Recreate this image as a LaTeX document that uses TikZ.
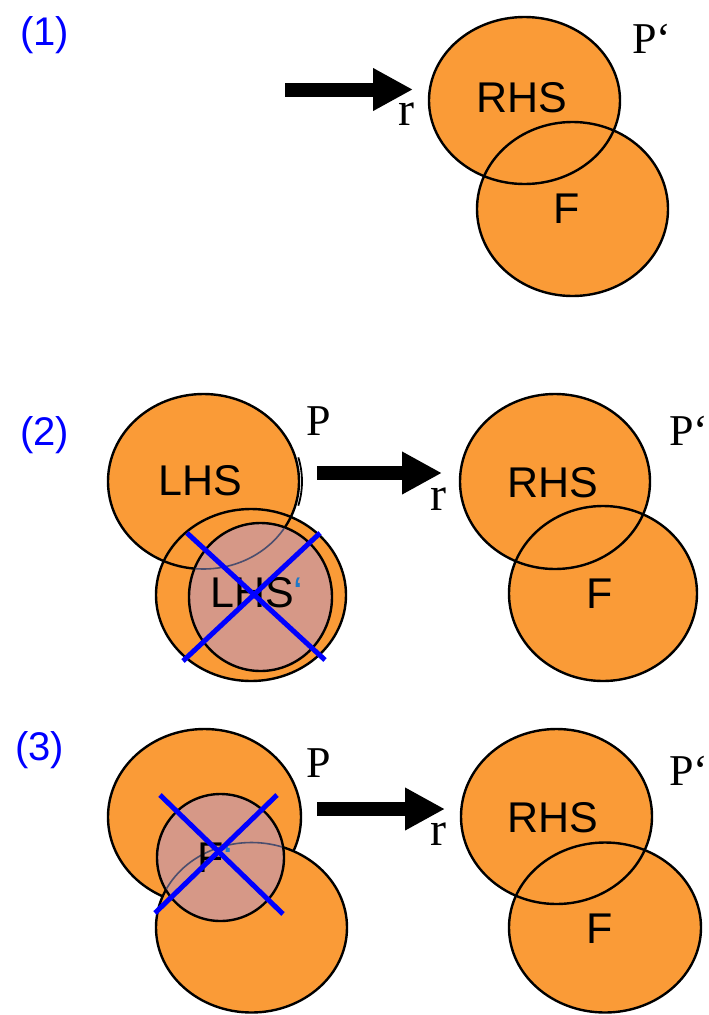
\documentclass[tikz,border=0pt]{standalone}
\usepackage{fontspec}
\setmainfont{Liberation Serif}
\newfontfamily\arialf{Liberation Sans}
\usetikzlibrary{arrows.meta}
\definecolor{blobor}{RGB}{250,155,55}
\definecolor{pinkx}{RGB}{214,152,135}
\definecolor{faintl}{RGB}{75,78,110}
\definecolor{primec}{RGB}{30,120,200}
\begin{document}
\begin{tikzpicture}[x=1pt,y=-1pt,
  blobfill/.style={fill=blobor},
  blobline/.style={draw=black,line width=2.4pt},
  pinkblob/.style={fill=pinkx,draw=black,line width=2.4pt},
  faint/.style={draw=faintl,line width=1.6pt},
  crossline/.style={draw=blue,line width=5pt},
  bigarrow/.style={line width=14pt,-{Triangle[length=40pt,width=40pt]}},
  lab/.style={font=\arialf\fontsize{43}{43}\selectfont,inner sep=0pt,anchor=base},
  num/.style={font=\arialf\fontsize{40}{40}\selectfont,text=blue,inner sep=0pt,anchor=base west},
  tms/.style={font=\fontsize{44}{44}\selectfont,inner sep=0pt,anchor=base},
  tmsr/.style={font=\fontsize{48}{48}\selectfont,inner sep=0pt,anchor=base},
  primemark/.style={text=primec}]
\path[use as bounding box] (0,0) rectangle (709,1015);

% ---------------- panel (1)
\node[num] (n1) at (20,45) {(1)};
\fill[blobfill] (524.5,100.5) ellipse [x radius=95.5,y radius=83.5];
\fill[blobfill] (572.5,209) ellipse [x radius=95.5,y radius=87];
\draw[blobline] (524.5,100.5) ellipse [x radius=95.5,y radius=83.5];
\draw[blobline] (572.5,209) ellipse [x radius=95.5,y radius=87];
\node[lab] (rhs1) at (522,112) {RHS};
\node[lab] (f1) at (567,223) {F};
\node[tms,anchor=base west] (pp1) at (632,53) {P‘};
\coordinate (a1s) at (285,89.5);
\coordinate (a1e) at (413,89.5);
\draw[bigarrow] (a1s) -- (a1e);
\node[tmsr] (r1) at (406,125) {r};

% ---------------- panel (2)
\node[num] (n2) at (20,445) {(2)};
\fill[blobfill] (203.5,481.5) ellipse [x radius=95.5,y radius=87.5];
\fill[blobfill] (251,595) ellipse [x radius=95,y radius=86];
\draw[blobline] (203.5,481.5) ellipse [x radius=95.5,y radius=87.5];
\draw[blobline] (251,595) ellipse [x radius=95,y radius=86];
\draw[line width=1.8pt] (206.5,481.5) ++(-16:95.5 and 87.5) arc [start angle=-16,end angle=16,x radius=95.5,y radius=87.5];
\node[lab] (lhs2) at (200.5,495) {LHS};
\draw[pinkblob] (260.5,597) ellipse [x radius=71.5,y radius=74];
\begin{scope}
  \clip (260.5,597) ellipse [x radius=70.5,y radius=73];
  \draw[faint] (203.5,481.5) ellipse [x radius=95.5,y radius=87.5];
\end{scope}
\node[lab,anchor=base west] (lhsp) at (210,607) {LHS\textcolor{primec}{‘}};
\coordinate (x2a) at (187,533); \coordinate (x2b) at (325,660);
\coordinate (x2c) at (320,533); \coordinate (x2d) at (183,661);
\draw[crossline] (x2a) -- (x2b);
\draw[crossline] (x2c) -- (x2d);
\node[tms] (p2) at (318.5,435) {P};
\coordinate (a2s) at (317,473);
\coordinate (a2e) at (442,473);
\draw[bigarrow] (a2s) -- (a2e);
\node[tmsr] (r2) at (438.5,510) {r};
\fill[blobfill] (555,481.5) ellipse [x radius=95,y radius=87.5];
\fill[blobfill] (603,593.5) ellipse [x radius=94,y radius=87.5];
\draw[blobline] (555,481.5) ellipse [x radius=95,y radius=87.5];
\draw[blobline] (603,593.5) ellipse [x radius=94,y radius=87.5];
\node[lab] (rhs2) at (553,497) {RHS};
\node[lab] (f2) at (600,608) {F};
\node[tms,anchor=base west] (pp2) at (669,445) {P‘};

% ---------------- panel (3)
\node[num] (n3) at (15,760) {(3)};
\draw[blobline,fill=blobor] (204.5,817) ellipse [x radius=96.5,y radius=88];
\draw[blobline,fill=blobor] (251.5,927.5) ellipse [x radius=95.5,y radius=85];
\draw[pinkblob] (220.5,857.5) ellipse [x radius=63.5,y radius=63.5];
\begin{scope}
  \clip (220.5,857.5) ellipse [x radius=62.5,y radius=62.5];
  \draw[faint] (251.5,927.5) ellipse [x radius=95.5,y radius=85];
\end{scope}
\node[lab,anchor=base west] (fp3) at (197,872) {F\textcolor{primec}{‘}};
\coordinate (x3a) at (160,795); \coordinate (x3b) at (283,914);
\coordinate (x3c) at (277,795); \coordinate (x3d) at (155,913);
\draw[crossline] (x3a) -- (x3b);
\draw[crossline] (x3c) -- (x3d);
\node[tms] (p3) at (318.5,777) {P};
\coordinate (a3s) at (317,809);
\coordinate (a3e) at (445,809);
\draw[bigarrow] (a3s) -- (a3e);
\node[tmsr] (r3) at (438.5,845) {r};
\fill[blobfill] (556.5,816.5) ellipse [x radius=95.5,y radius=87.5];
\fill[blobfill] (605,927.5) ellipse [x radius=96,y radius=85];
\draw[blobline] (556.5,816.5) ellipse [x radius=95.5,y radius=87.5];
\draw[blobline] (605,927.5) ellipse [x radius=96,y radius=85];
\node[lab] (rhs3) at (553,832) {RHS};
\node[lab] (f3) at (600,943) {F};
\node[tms,anchor=base west] (pp3) at (669,785) {P‘};
\end{tikzpicture}
\end{document}
